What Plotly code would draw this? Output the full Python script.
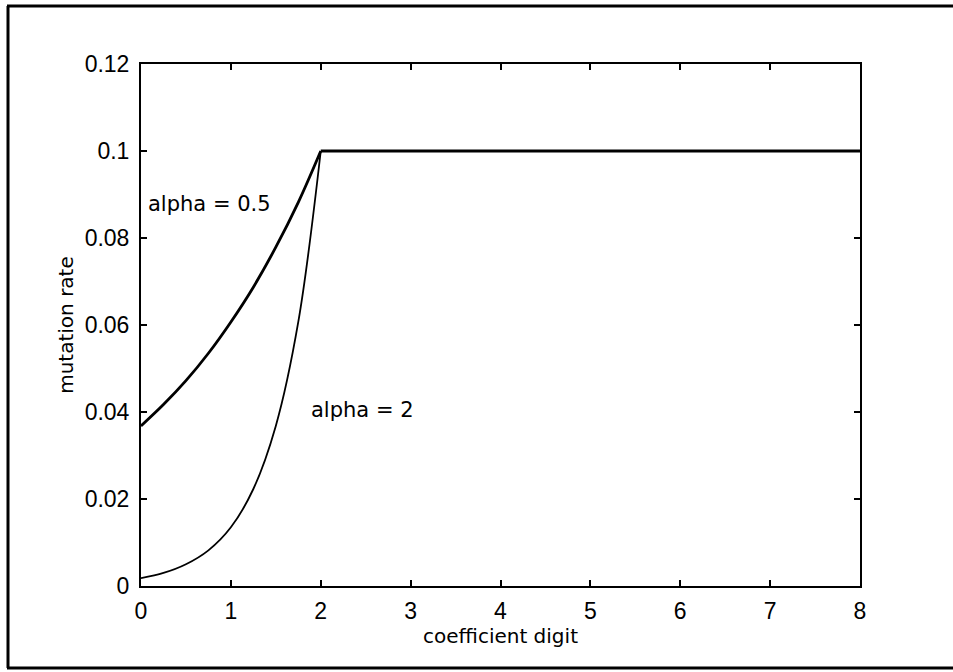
import plotly.graph_objects as go

# Data
x_curve = [0, 0.25, 0.5, 0.75, 1.0, 1.25, 1.5, 1.75, 2.0]
y_alpha05 = [0.0368, 0.0417, 0.0472, 0.0535, 0.0607, 0.0687, 0.0779, 0.0882, 0.1]
y_alpha2 = [0.0018, 0.0030, 0.0050, 0.0082, 0.0135, 0.0223, 0.0368, 0.0607, 0.1]
x_flat = [2, 8]
y_flat = [0.1, 0.1]

x_ticks = [0, 1, 2, 3, 4, 5, 6, 7, 8]
y_ticks = [0, 0.02, 0.04, 0.06, 0.08, 0.1, 0.12]
y_ticklabels = ["0", "0.02", "0.04", "0.06", "0.08", "0.1", "0.12"]

W, H = 953, 672
L, R, T, B = 141, 93, 64, 86
pw, ph = W - L - R, H - T - B

def px(xp):
    return (xp - L) / pw

def py(yp):
    return (H - B - yp) / ph

fig = go.Figure()
fig.add_trace(go.Scatter(x=x_curve, y=y_alpha05, mode="lines", line=dict(color="black", width=2.8, shape="spline"), showlegend=False))
fig.add_trace(go.Scatter(x=x_curve, y=y_alpha2, mode="lines", line=dict(color="black", width=1.8, shape="spline"), showlegend=False))
fig.add_trace(go.Scatter(x=x_flat, y=y_flat, mode="lines", line=dict(color="black", width=2.8), showlegend=False))

sans = "Liberation Sans, Arial, sans-serif"
wide = "DejaVu Sans, Liberation Sans, sans-serif"
ann_font = dict(family=wide, size=21, color="black")

fig.add_annotation(x=0.06, y=0.0878, text="alpha = 0.5", showarrow=False, xanchor="left", yanchor="middle", font=ann_font)
fig.add_annotation(x=1.87, y=0.0405, text="alpha = 2", showarrow=False, xanchor="left", yanchor="middle", font=ann_font)

# Outer frame (top, left, bottom)
lw = 3
fig.add_shape(type="line", xref="paper", yref="paper", x0=px(7), x1=px(953), y0=py(6), y1=py(6), line=dict(color="black", width=lw))
fig.add_shape(type="line", xref="paper", yref="paper", x0=px(8), x1=px(8), y0=py(6), y1=py(668), line=dict(color="black", width=lw))
fig.add_shape(type="line", xref="paper", yref="paper", x0=px(7), x1=px(953), y0=py(668), y1=py(668), line=dict(color="black", width=lw))

tick_font = dict(family=sans, size=23, color="black")
title_font = dict(family=wide, size=20, color="black")

fig.update_layout(
    width=W, height=H,
    margin=dict(l=L, r=R, t=T, b=B),
    paper_bgcolor="white", plot_bgcolor="white",
    font=dict(family=sans, size=20, color="black"),
    xaxis=dict(range=[0, 8], tickvals=x_ticks, ticks="inside", ticklen=6, tickwidth=1.5, tickcolor="black",
               showline=True, linecolor="black", linewidth=2, mirror="ticks", showgrid=False, zeroline=False,
               ticklabelstandoff=3,
               title=dict(text="coefficient digit", font=title_font, standoff=3), tickfont=tick_font),
    yaxis=dict(range=[0, 0.12], tickvals=y_ticks, ticktext=y_ticklabels, ticks="inside", ticklen=6, tickwidth=1.5, tickcolor="black",
               showline=True, linecolor="black", linewidth=2, mirror="ticks", showgrid=False, zeroline=False,
               ticklabelstandoff=5,
               title=dict(text="mutation rate", font=title_font, standoff=6), tickfont=tick_font),
)

fig.write_html("out.html")
